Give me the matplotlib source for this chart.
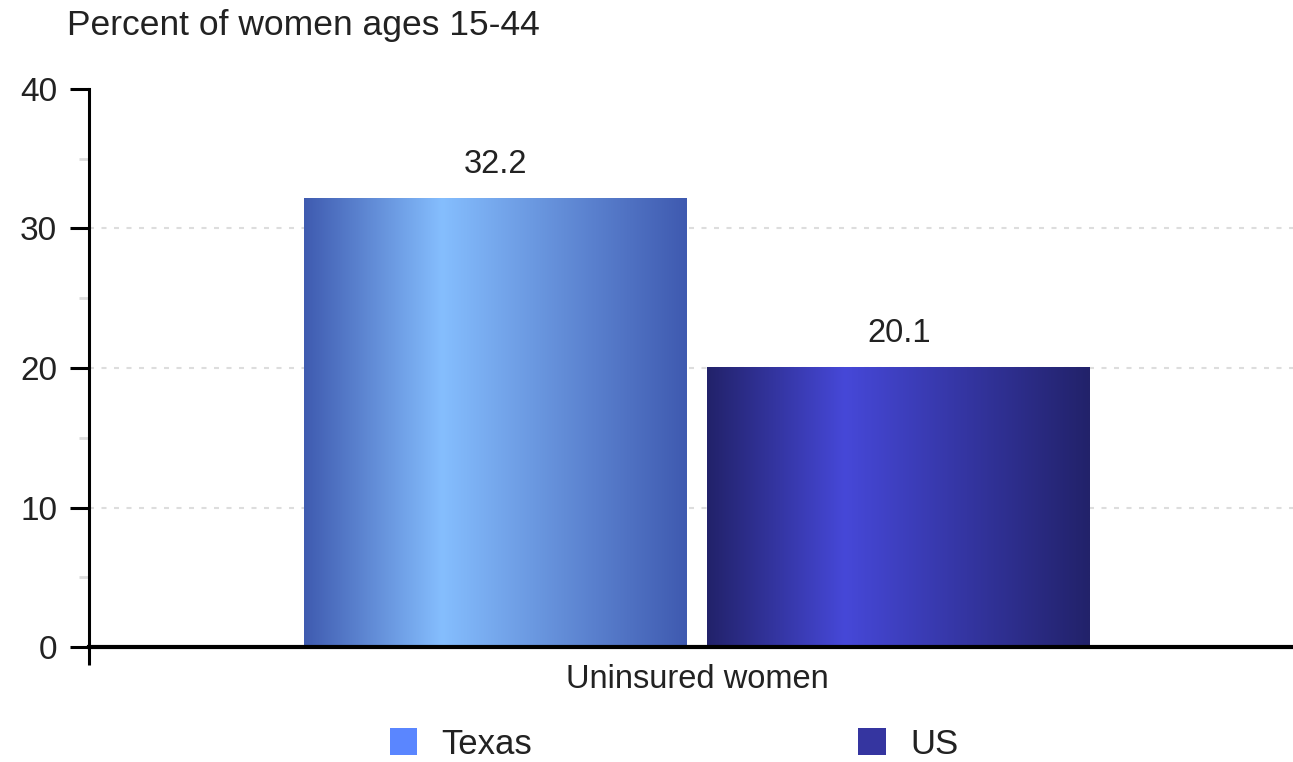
import numpy as np
import matplotlib as mpl; mpl.use("Agg")
import matplotlib.pyplot as plt
from matplotlib.colors import LinearSegmentedColormap
from matplotlib.patches import Patch

mpl.rcParams.update({"font.family": ["Liberation Sans", "DejaVu Sans"], "font.size": 23})

# ---- data ----
category = "Uninsured women"
series = ["Texas", "US"]
values = [32.2, 20.1]
yticks = [0, 10, 20, 30, 40]
title = "Percent of women ages 15-44"

# ---- styles ----
offsets = [-0.1625, 0.1725]
width = 0.318
grad = {"Texas": ["#3f5bb0", "#85befe", "#3f5ab0"],
        "US": ["#22226a", "#4648d8", "#22226a"]}
legend_col = {"Texas": "#5a86ff", "US": "#3535a0"}
TXT = "#222222"

fig = plt.figure(figsize=(12.93, 7.62), dpi=100)
ax = fig.add_axes([89/1293, 115/762, 1 - 89/1293, 558/762])

for name, v, off in zip(series, values, offsets):
    bars = ax.bar(off, v, width, color="none", edgecolor="none", zorder=2)
    p = bars[0]
    cm = LinearSegmentedColormap.from_list(name, [(0, grad[name][0]), (0.36, grad[name][1]), (1, grad[name][2])])
    img = ax.imshow(np.linspace(0, 1, 256)[None, :], cmap=cm, aspect="auto",
                    extent=[off - width/2, off + width/2, 0, v], zorder=2)
    img.set_clip_path(p)
    ax.annotate(f"{v:.1f}", (off, v), xytext=(0, 24), textcoords="offset points",
                ha="center", va="center", color=TXT, fontsize=23.5)

ax.set_xlim(-0.5, 0.5); ax.set_ylim(0, 40)
ax.set_aspect("auto")

for y in yticks[1:-1]:
    ax.axhline(y, color="#dddddd", lw=1.5, ls=(0, (2.4, 3.6)), zorder=1)

ax.set_yticks(yticks)
ax.set_yticks([5, 15, 25, 35], minor=True)
ax.tick_params(axis="y", which="major", length=14, width=2.2, color="black",
               pad=9, labelcolor=TXT, labelsize=24)
ax.tick_params(axis="y", which="minor", length=7, width=2, color="#dddddd")
ax.set_xticks([0.005]); ax.set_xticklabels([category])
ax.set_xticks([-0.5], minor=True)
ax.tick_params(axis="x", which="major", length=0, pad=12, labelcolor=TXT, labelsize=23.5)
ax.tick_params(axis="x", which="minor", length=13, width=2.2, color="black")

for s in ["top", "right"]:
    ax.spines[s].set_visible(False)
ax.spines["left"].set_linewidth(2.2)
ax.spines["bottom"].set_linewidth(3)

fig.text(67/1293, 1 - 25/762, title, ha="left", va="center", color=TXT, fontsize=25.5)

handles = [Patch(facecolor=legend_col[n], edgecolor="none") for n in series]
fig.legend(handles, series, loc="center", bbox_to_anchor=(674/1293, 1 - 744/762), ncol=2,
           frameon=False, handlelength=0.8, handleheight=0.8, handletextpad=0.69,
           columnspacing=9.4, fontsize=25, labelcolor=TXT)

fig.savefig("out.png", dpi=100)
